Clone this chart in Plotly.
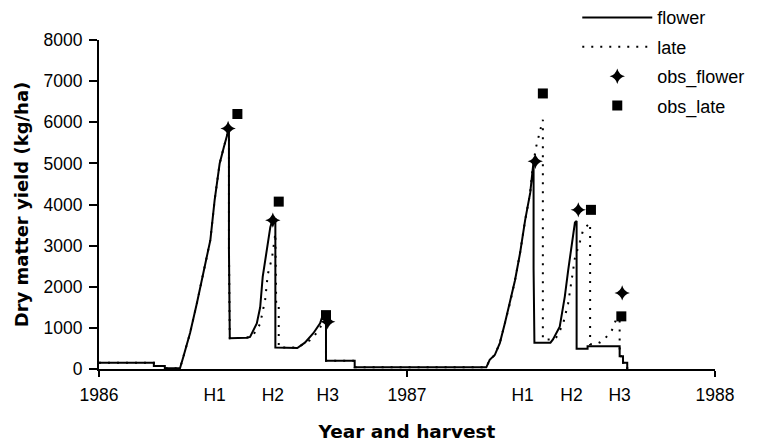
import plotly.graph_objects as go

# x values are days since 1 Jan 1986
flower_day = [0, 65, 65, 78, 78, 96, 100, 108, 116, 123, 132, 137, 143, 148, 152, 154, 154, 155,
              175, 179, 187, 191, 194, 199, 203, 206, 209, 209, 235, 244, 254, 262, 265, 269, 269,
              303, 303, 459, 463, 469, 475, 481, 487, 493, 499, 505, 511, 514, 515, 515, 516,
              535, 538, 546, 552, 556, 560, 564, 566, 566, 579, 579, 617, 617, 621, 621, 626, 626]
flower_val = [150, 150, 70, 70, 20, 20, 300, 880, 1600, 2240, 3140, 4100, 5000, 5400, 5740, 5850, 2900, 750,
              760, 780, 1110, 1500, 2240, 2900, 3450, 3650, 3650, 520, 510, 640, 870, 1110, 1300, 1250, 200,
              200, 40, 40, 225, 340, 630, 1110, 1600, 2160, 2820, 3620, 4280, 4920, 5050, 2450, 640,
              640, 720, 1030, 1760, 2400, 2980, 3560, 3600, 490, 490, 555, 555, 310, 310, 150, 150, 0]

late_day = [0, 65, 65, 78, 78, 96, 100, 108, 116, 123, 132, 137, 143, 148, 152, 154, 154, 155,
            175, 182, 191, 197, 200, 205, 209, 210, 213, 213, 235, 238, 250, 259, 265, 269, 269,
            303, 303, 459, 463, 469, 475, 481, 487, 493, 499, 505, 511, 514, 518, 523, 526, 526,
            540, 543, 550, 556, 560, 564, 570, 574, 582, 582, 588, 594, 600, 608, 614, 617, 617,
            621, 621, 626, 626]
late_val = [150, 150, 70, 70, 20, 20, 300, 880, 1600, 2240, 3140, 4100, 5000, 5400, 5740, 5850, 2900, 750,
            760, 800, 1100, 1700, 2300, 2700, 3300, 1550, 1550, 520, 520, 560, 700, 900, 1100, 1250, 200,
            200, 40, 40, 225, 340, 630, 1110, 1600, 2160, 2820, 3620, 4280, 4920, 5400, 5820, 6060, 720,
            720, 800, 1100, 1600, 2100, 2700, 3100, 3400, 3550, 600, 600, 650, 750, 950, 1270, 1360, 310,
            310, 150, 150, 0]

obs_flower_day = [153, 206, 271, 517, 568, 620]
obs_flower_val = [5850, 3620, 1150, 5050, 3870, 1850]
obs_late_day = [164, 213, 269, 526, 583, 619]
obs_late_val = [6200, 4070, 1310, 6700, 3870, 1280]

tick_days = [0, 137, 206, 271, 365, 502, 560, 617, 730]
tick_text = ["1986", "H1", "H2", "H3", "1987", "H1", "H2", "H3", "1988"]
year_days = [0, 365, 730]
y_ticks = [0, 1000, 2000, 3000, 4000, 5000, 6000, 7000, 8000]

assert len(flower_day) == len(flower_val)
assert len(late_day) == len(late_val)

FONT = "Liberation Sans, Arial, sans-serif"
TITLE_FONT = "DejaVu Sans, sans-serif"

fig = go.Figure()
fig.add_trace(go.Scatter(x=flower_day, y=flower_val, mode="lines", name="flower",
                         line=dict(color="black", width=2), legendgroup="a"))
fig.add_trace(go.Scatter(x=late_day, y=late_val, mode="lines", name="late",
                         line=dict(color="black", width=2, dash="2px,7px"), legendgroup="b"))
fig.add_trace(go.Scatter(x=obs_flower_day, y=obs_flower_val, mode="markers", name="obs_flower",
                         marker=dict(symbol="star-diamond", size=11, color="black"), legendgroup="c"))
fig.add_trace(go.Scatter(x=obs_late_day, y=obs_late_val, mode="markers", name="obs_late",
                         marker=dict(symbol="square", size=10, color="black"), legendgroup="d"))

fig.update_layout(
    width=755, height=438,
    margin=dict(l=91, r=48, t=32, b=77, autoexpand=False),
    paper_bgcolor="white", plot_bgcolor="white",
    font=dict(family=FONT, size=17.5, color="black"),
    showlegend=True,
    legend=dict(xref="container", yref="paper", x=0.754, y=1.124,
                xanchor="left", yanchor="top", itemwidth=70,
                tracegroupgap=3, font=dict(size=18), bgcolor="rgba(0,0,0,0)"),
    xaxis=dict(range=[0, 730], showgrid=False, zeroline=False,
               showline=True, linecolor="black", linewidth=2,
               tickmode="array", tickvals=tick_days, ticktext=tick_text,
               ticks="", ticklabelstandoff=9,
               minor=dict(tickmode="array", tickvals=year_days, ticks="outside",
                          ticklen=6, tickcolor="black", tickwidth=1.5),
               title=dict(text="<b>Year and harvest</b>",
                          font=dict(family=TITLE_FONT, size=18.5), standoff=21)),
    yaxis=dict(range=[0, 8000], showgrid=False, zeroline=False,
               showline=True, linecolor="black", linewidth=2,
               tickmode="array", tickvals=y_ticks,
               ticks="outside", ticklen=8, tickcolor="black", tickwidth=1.5,
               ticklabelstandoff=3,
               title=dict(text="<b>Dry matter yield (kg/ha)</b>",
                          font=dict(family=TITLE_FONT, size=18), standoff=10)),
)

fig.write_html("out.html")
